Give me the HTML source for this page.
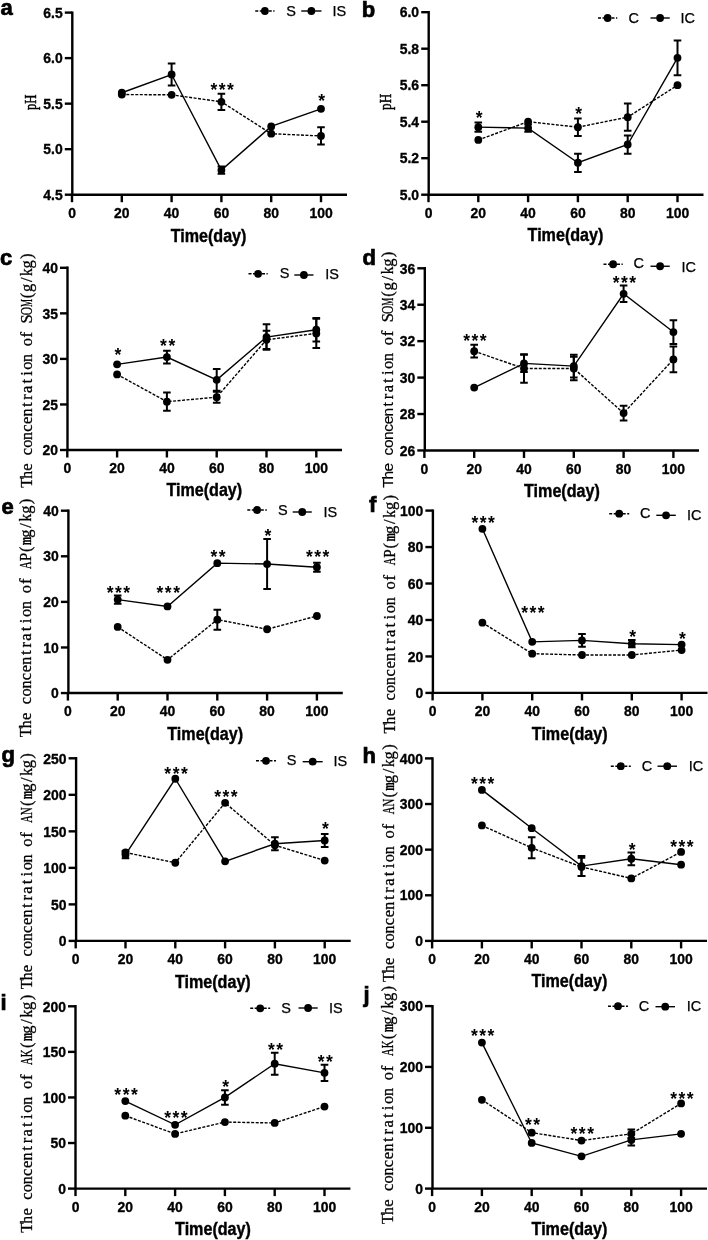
<!DOCTYPE html>
<html><head><meta charset="utf-8"><title>Figure</title>
<style>
html,body{margin:0;padding:0;background:#fff;}
body{width:708px;height:1240px;overflow:hidden;}
svg{display:block;filter:grayscale(1);}
text{font-family:"Liberation Sans",sans-serif;fill:#000;}
.tk{font-size:15px;font-weight:bold;stroke:#000;stroke-width:0.35px;}
.tm{font-size:17.5px;font-weight:bold;stroke:#000;stroke-width:0.4px;}
.lt{font-size:22px;font-weight:bold;stroke:#000;stroke-width:0.7px;}
.lg{font-size:14.5px;stroke:#000;stroke-width:0.25px;}
.st{font-size:17.5px;font-weight:bold;letter-spacing:1.5px;}
.yt text{font-family:"Liberation Serif",serif;font-size:16.5px;stroke:#000;stroke-width:0.3px;}
.yt text.ss{font-family:"Liberation Sans",sans-serif;font-size:15.5px;stroke-width:0.15px;}
.ph{font-family:"Liberation Serif",serif;font-size:17px;stroke:#000;stroke-width:0.45px;}
</style></head>
<body>
<svg width="708" height="1240" viewBox="0 0 708 1240">
<rect width="708" height="1240" fill="#fff"/>
<path d="M72.30 11.40V194.70H347.00" fill="none" stroke="#000" stroke-width="2.4" stroke-linejoin="miter"/>
<line x1="64.80" y1="194.70" x2="72.30" y2="194.70" stroke="#000" stroke-width="2.4"/>
<text transform="translate(62.70,199.90) scale(0.93,1)" class="tk" text-anchor="end">4.5</text>
<line x1="64.80" y1="149.17" x2="72.30" y2="149.17" stroke="#000" stroke-width="2.4"/>
<text transform="translate(62.70,154.37) scale(0.93,1)" class="tk" text-anchor="end">5.0</text>
<line x1="64.80" y1="103.65" x2="72.30" y2="103.65" stroke="#000" stroke-width="2.4"/>
<text transform="translate(62.70,108.85) scale(0.93,1)" class="tk" text-anchor="end">5.5</text>
<line x1="64.80" y1="58.12" x2="72.30" y2="58.12" stroke="#000" stroke-width="2.4"/>
<text transform="translate(62.70,63.33) scale(0.93,1)" class="tk" text-anchor="end">6.0</text>
<line x1="64.80" y1="12.60" x2="72.30" y2="12.60" stroke="#000" stroke-width="2.4"/>
<text transform="translate(62.70,17.80) scale(0.93,1)" class="tk" text-anchor="end">6.5</text>
<line x1="72.00" y1="194.70" x2="72.00" y2="202.20" stroke="#000" stroke-width="2.4"/>
<text transform="translate(72.00,218.00) scale(0.93,1)" class="tk" text-anchor="middle">0</text>
<line x1="121.80" y1="194.70" x2="121.80" y2="202.20" stroke="#000" stroke-width="2.4"/>
<text transform="translate(121.80,218.00) scale(0.93,1)" class="tk" text-anchor="middle">20</text>
<line x1="171.60" y1="194.70" x2="171.60" y2="202.20" stroke="#000" stroke-width="2.4"/>
<text transform="translate(171.60,218.00) scale(0.93,1)" class="tk" text-anchor="middle">40</text>
<line x1="221.40" y1="194.70" x2="221.40" y2="202.20" stroke="#000" stroke-width="2.4"/>
<text transform="translate(221.40,218.00) scale(0.93,1)" class="tk" text-anchor="middle">60</text>
<line x1="271.20" y1="194.70" x2="271.20" y2="202.20" stroke="#000" stroke-width="2.4"/>
<text transform="translate(271.20,218.00) scale(0.93,1)" class="tk" text-anchor="middle">80</text>
<line x1="321.00" y1="194.70" x2="321.00" y2="202.20" stroke="#000" stroke-width="2.4"/>
<text transform="translate(321.00,218.00) scale(0.93,1)" class="tk" text-anchor="middle">100</text>
<text x="170.65" y="241.70" class="tm" textLength="75.8" lengthAdjust="spacingAndGlyphs">Time(day)</text>
<text x="0.50" y="15.30" class="lt">a</text>
<text transform="translate(36.00,110.00) rotate(-90)" x="0" y="0" class="ph" textLength="15.50" lengthAdjust="spacingAndGlyphs">pH</text>
<path d="M121.80 94.55 L171.60 94.82 L221.40 101.83 L271.20 133.70 L321.00 135.97" fill="none" stroke="#000" stroke-width="1.4" stroke-dasharray="3 1.5"/>
<path d="M121.80 92.72 L171.60 74.51 L221.40 170.12 L271.20 126.41 L321.00 108.84" fill="none" stroke="#000" stroke-width="1.4"/>
<circle cx="121.80" cy="94.55" r="3.9"/>
<circle cx="171.60" cy="94.82" r="3.9"/>
<path d="M221.40 93.63V110.02M217.60 93.63H225.20M217.60 110.02H225.20" stroke="#000" stroke-width="2.0" fill="none"/>
<circle cx="221.40" cy="101.83" r="3.9"/>
<circle cx="271.20" cy="133.70" r="3.9"/>
<path d="M321.00 127.32V144.62M317.20 127.32H324.80M317.20 144.62H324.80" stroke="#000" stroke-width="2.0" fill="none"/>
<circle cx="321.00" cy="135.97" r="3.9"/>
<circle cx="121.80" cy="92.72" r="3.9"/>
<path d="M171.60 63.59V85.44M167.80 63.59H175.40M167.80 85.44H175.40" stroke="#000" stroke-width="2.0" fill="none"/>
<circle cx="171.60" cy="74.51" r="3.9"/>
<path d="M221.40 166.47V173.76M217.60 166.47H225.20M217.60 173.76H225.20" stroke="#000" stroke-width="2.0" fill="none"/>
<circle cx="221.40" cy="170.12" r="3.9"/>
<circle cx="271.20" cy="126.41" r="3.9"/>
<circle cx="321.00" cy="108.84" r="3.9"/>
<text x="222.90" y="95.80" class="st" text-anchor="middle">***</text>
<text x="322.50" y="107.00" class="st" text-anchor="middle">*</text>
<line x1="255.25" y1="11.00" x2="274.50" y2="11.00" stroke="#000" stroke-width="1.4" stroke-dasharray="3 1.5"/>
<circle cx="264.88" cy="11.00" r="3.9"/>
<line x1="301.25" y1="11.00" x2="321.50" y2="11.00" stroke="#000" stroke-width="1.4"/>
<circle cx="311.38" cy="11.00" r="3.9"/>
<text x="286.20" y="16.10" class="lg">S</text>
<text x="332.50" y="16.10" class="lg">IS</text>
<path d="M428.70 11.00V194.70H703.50" fill="none" stroke="#000" stroke-width="2.4" stroke-linejoin="miter"/>
<line x1="421.20" y1="194.70" x2="428.70" y2="194.70" stroke="#000" stroke-width="2.4"/>
<text transform="translate(419.10,199.90) scale(0.93,1)" class="tk" text-anchor="end">5.0</text>
<line x1="421.20" y1="158.20" x2="428.70" y2="158.20" stroke="#000" stroke-width="2.4"/>
<text transform="translate(419.10,163.40) scale(0.93,1)" class="tk" text-anchor="end">5.2</text>
<line x1="421.20" y1="121.70" x2="428.70" y2="121.70" stroke="#000" stroke-width="2.4"/>
<text transform="translate(419.10,126.90) scale(0.93,1)" class="tk" text-anchor="end">5.4</text>
<line x1="421.20" y1="85.20" x2="428.70" y2="85.20" stroke="#000" stroke-width="2.4"/>
<text transform="translate(419.10,90.40) scale(0.93,1)" class="tk" text-anchor="end">5.6</text>
<line x1="421.20" y1="48.70" x2="428.70" y2="48.70" stroke="#000" stroke-width="2.4"/>
<text transform="translate(419.10,53.90) scale(0.93,1)" class="tk" text-anchor="end">5.8</text>
<line x1="421.20" y1="12.20" x2="428.70" y2="12.20" stroke="#000" stroke-width="2.4"/>
<text transform="translate(419.10,17.40) scale(0.93,1)" class="tk" text-anchor="end">6.0</text>
<line x1="428.50" y1="194.70" x2="428.50" y2="202.20" stroke="#000" stroke-width="2.4"/>
<text transform="translate(428.50,218.00) scale(0.93,1)" class="tk" text-anchor="middle">0</text>
<line x1="478.30" y1="194.70" x2="478.30" y2="202.20" stroke="#000" stroke-width="2.4"/>
<text transform="translate(478.30,218.00) scale(0.93,1)" class="tk" text-anchor="middle">20</text>
<line x1="528.10" y1="194.70" x2="528.10" y2="202.20" stroke="#000" stroke-width="2.4"/>
<text transform="translate(528.10,218.00) scale(0.93,1)" class="tk" text-anchor="middle">40</text>
<line x1="577.90" y1="194.70" x2="577.90" y2="202.20" stroke="#000" stroke-width="2.4"/>
<text transform="translate(577.90,218.00) scale(0.93,1)" class="tk" text-anchor="middle">60</text>
<line x1="627.70" y1="194.70" x2="627.70" y2="202.20" stroke="#000" stroke-width="2.4"/>
<text transform="translate(627.70,218.00) scale(0.93,1)" class="tk" text-anchor="middle">80</text>
<line x1="677.50" y1="194.70" x2="677.50" y2="202.20" stroke="#000" stroke-width="2.4"/>
<text transform="translate(677.50,218.00) scale(0.93,1)" class="tk" text-anchor="middle">100</text>
<text x="527.60" y="241.40" class="tm" textLength="75.8" lengthAdjust="spacingAndGlyphs">Time(day)</text>
<text x="361.80" y="17.40" class="lt">b</text>
<text transform="translate(391.00,110.00) rotate(-90)" x="0" y="0" class="ph" textLength="16.20" lengthAdjust="spacingAndGlyphs">pH</text>
<path d="M478.30 139.95 L528.10 121.70 L577.90 127.17 L627.70 117.14 L677.50 85.20" fill="none" stroke="#000" stroke-width="1.4" stroke-dasharray="3 1.5"/>
<path d="M478.30 127.17 L528.10 128.09 L577.90 162.76 L627.70 144.51 L677.50 57.82" fill="none" stroke="#000" stroke-width="1.4"/>
<circle cx="478.30" cy="139.95" r="3.9"/>
<circle cx="528.10" cy="121.70" r="3.9"/>
<path d="M577.90 118.41V135.93M574.10 118.41H581.70M574.10 135.93H581.70" stroke="#000" stroke-width="2.0" fill="none"/>
<circle cx="577.90" cy="127.17" r="3.9"/>
<path d="M627.70 103.45V130.83M623.90 103.45H631.50M623.90 130.83H631.50" stroke="#000" stroke-width="2.0" fill="none"/>
<circle cx="627.70" cy="117.14" r="3.9"/>
<circle cx="677.50" cy="85.20" r="3.9"/>
<path d="M478.30 122.61V131.74M474.50 122.61H482.10M474.50 131.74H482.10" stroke="#000" stroke-width="2.0" fill="none"/>
<circle cx="478.30" cy="127.17" r="3.9"/>
<path d="M528.10 124.44V131.74M524.30 124.44H531.90M524.30 131.74H531.90" stroke="#000" stroke-width="2.0" fill="none"/>
<circle cx="528.10" cy="128.09" r="3.9"/>
<path d="M577.90 153.64V171.89M574.10 153.64H581.70M574.10 171.89H581.70" stroke="#000" stroke-width="2.0" fill="none"/>
<circle cx="577.90" cy="162.76" r="3.9"/>
<path d="M627.70 135.39V153.64M623.90 135.39H631.50M623.90 153.64H631.50" stroke="#000" stroke-width="2.0" fill="none"/>
<circle cx="627.70" cy="144.51" r="3.9"/>
<path d="M677.50 40.49V75.16M673.70 40.49H681.30M673.70 75.16H681.30" stroke="#000" stroke-width="2.0" fill="none"/>
<circle cx="677.50" cy="57.82" r="3.9"/>
<text x="479.80" y="124.00" class="st" text-anchor="middle">*</text>
<text x="579.40" y="120.20" class="st" text-anchor="middle">*</text>
<line x1="598.00" y1="18.00" x2="617.25" y2="18.00" stroke="#000" stroke-width="1.4" stroke-dasharray="3 1.5"/>
<circle cx="607.62" cy="18.00" r="3.9"/>
<line x1="650.50" y1="18.00" x2="669.75" y2="18.00" stroke="#000" stroke-width="1.4"/>
<circle cx="660.12" cy="18.00" r="3.9"/>
<text x="628.50" y="22.60" class="lg">C</text>
<text x="680.50" y="22.60" class="lg">IC</text>
<path d="M67.50 266.60V450.00H342.00" fill="none" stroke="#000" stroke-width="2.4" stroke-linejoin="miter"/>
<line x1="60.00" y1="450.00" x2="67.50" y2="450.00" stroke="#000" stroke-width="2.4"/>
<text transform="translate(57.90,455.20) scale(0.93,1)" class="tk" text-anchor="end">20</text>
<line x1="60.00" y1="404.45" x2="67.50" y2="404.45" stroke="#000" stroke-width="2.4"/>
<text transform="translate(57.90,409.65) scale(0.93,1)" class="tk" text-anchor="end">25</text>
<line x1="60.00" y1="358.90" x2="67.50" y2="358.90" stroke="#000" stroke-width="2.4"/>
<text transform="translate(57.90,364.10) scale(0.93,1)" class="tk" text-anchor="end">30</text>
<line x1="60.00" y1="313.35" x2="67.50" y2="313.35" stroke="#000" stroke-width="2.4"/>
<text transform="translate(57.90,318.55) scale(0.93,1)" class="tk" text-anchor="end">35</text>
<line x1="60.00" y1="267.80" x2="67.50" y2="267.80" stroke="#000" stroke-width="2.4"/>
<text transform="translate(57.90,273.00) scale(0.93,1)" class="tk" text-anchor="end">40</text>
<line x1="67.30" y1="450.00" x2="67.30" y2="457.50" stroke="#000" stroke-width="2.4"/>
<text transform="translate(67.30,473.30) scale(0.93,1)" class="tk" text-anchor="middle">0</text>
<line x1="117.10" y1="450.00" x2="117.10" y2="457.50" stroke="#000" stroke-width="2.4"/>
<text transform="translate(117.10,473.30) scale(0.93,1)" class="tk" text-anchor="middle">20</text>
<line x1="166.90" y1="450.00" x2="166.90" y2="457.50" stroke="#000" stroke-width="2.4"/>
<text transform="translate(166.90,473.30) scale(0.93,1)" class="tk" text-anchor="middle">40</text>
<line x1="216.70" y1="450.00" x2="216.70" y2="457.50" stroke="#000" stroke-width="2.4"/>
<text transform="translate(216.70,473.30) scale(0.93,1)" class="tk" text-anchor="middle">60</text>
<line x1="266.50" y1="450.00" x2="266.50" y2="457.50" stroke="#000" stroke-width="2.4"/>
<text transform="translate(266.50,473.30) scale(0.93,1)" class="tk" text-anchor="middle">80</text>
<line x1="316.30" y1="450.00" x2="316.30" y2="457.50" stroke="#000" stroke-width="2.4"/>
<text transform="translate(316.30,473.30) scale(0.93,1)" class="tk" text-anchor="middle">100</text>
<text x="166.40" y="496.10" class="tm" textLength="75.8" lengthAdjust="spacingAndGlyphs">Time(day)</text>
<text x="0.10" y="265.20" class="lt">c</text>
<g transform="translate(31.80,487.50) rotate(-90)" class="yt"><text x="-0.30">T</text><text transform="translate(8.71,0) scale(0.940,1)">h</text><text x="16.67">e</text><text x="32.26">c</text><text x="39.67">o</text><text transform="translate(47.53,0) scale(0.971,1)">n</text><text x="55.69">c</text><text x="63.52">e</text><text transform="translate(70.96,0) scale(0.971,1)">n</text><text x="80.51">t</text><text x="87.80">r</text><text x="94.61">a</text><text x="103.93">t</text><text x="111.76">i</text><text x="117.75">o</text><text transform="translate(125.61,0) scale(0.971,1)">n</text><text x="141.17">o</text><text x="150.10">f</text><text x="164.09">S</text><text transform="translate(172.35,0) scale(0.701,1)">O</text><text transform="translate(180.38,0) scale(0.540,1)">M</text><text x="189.30">(</text><text x="195.63">g</text><text x="205.47">/</text><text transform="translate(211.57,0) scale(0.932,1)">k</text><text x="219.05">g</text><text x="228.53">)</text></g>
<path d="M117.10 374.39 L166.90 401.72 L216.70 397.16 L266.50 339.77 L316.30 333.39" fill="none" stroke="#000" stroke-width="1.4" stroke-dasharray="3 1.5"/>
<path d="M117.10 364.37 L166.90 357.08 L216.70 379.85 L266.50 337.04 L316.30 329.75" fill="none" stroke="#000" stroke-width="1.4"/>
<circle cx="117.10" cy="374.39" r="3.9"/>
<path d="M166.90 392.61V410.83M163.10 392.61H170.70M163.10 410.83H170.70" stroke="#000" stroke-width="2.0" fill="none"/>
<circle cx="166.90" cy="401.72" r="3.9"/>
<path d="M216.70 391.70V402.63M212.90 391.70H220.50M212.90 402.63H220.50" stroke="#000" stroke-width="2.0" fill="none"/>
<circle cx="216.70" cy="397.16" r="3.9"/>
<path d="M266.50 330.66V348.88M262.70 330.66H270.30M262.70 348.88H270.30" stroke="#000" stroke-width="2.0" fill="none"/>
<circle cx="266.50" cy="339.77" r="3.9"/>
<path d="M316.30 318.82V347.97M312.50 318.82H320.10M312.50 347.97H320.10" stroke="#000" stroke-width="2.0" fill="none"/>
<circle cx="316.30" cy="333.39" r="3.9"/>
<circle cx="117.10" cy="364.37" r="3.9"/>
<path d="M166.90 350.70V363.46M163.10 350.70H170.70M163.10 363.46H170.70" stroke="#000" stroke-width="2.0" fill="none"/>
<circle cx="166.90" cy="357.08" r="3.9"/>
<path d="M216.70 368.92V390.79M212.90 368.92H220.50M212.90 390.79H220.50" stroke="#000" stroke-width="2.0" fill="none"/>
<circle cx="216.70" cy="379.85" r="3.9"/>
<path d="M266.50 324.28V349.79M262.70 324.28H270.30M262.70 349.79H270.30" stroke="#000" stroke-width="2.0" fill="none"/>
<circle cx="266.50" cy="337.04" r="3.9"/>
<path d="M316.30 317.91V341.59M312.50 317.91H320.10M312.50 341.59H320.10" stroke="#000" stroke-width="2.0" fill="none"/>
<circle cx="316.30" cy="329.75" r="3.9"/>
<text x="118.60" y="360.50" class="st" text-anchor="middle">*</text>
<text x="168.40" y="352.00" class="st" text-anchor="middle">**</text>
<line x1="248.50" y1="273.80" x2="267.70" y2="273.80" stroke="#000" stroke-width="1.4" stroke-dasharray="3 1.5"/>
<circle cx="258.10" cy="273.80" r="3.9"/>
<line x1="294.30" y1="275.00" x2="313.50" y2="275.00" stroke="#000" stroke-width="1.4"/>
<circle cx="303.90" cy="275.00" r="3.9"/>
<text x="279.70" y="278.40" class="lg">S</text>
<text x="325.20" y="279.20" class="lg">IS</text>
<path d="M424.80 267.10V450.45H699.00" fill="none" stroke="#000" stroke-width="2.4" stroke-linejoin="miter"/>
<line x1="417.30" y1="450.45" x2="424.80" y2="450.45" stroke="#000" stroke-width="2.4"/>
<text transform="translate(415.20,455.65) scale(0.93,1)" class="tk" text-anchor="end">26</text>
<line x1="417.30" y1="414.02" x2="424.80" y2="414.02" stroke="#000" stroke-width="2.4"/>
<text transform="translate(415.20,419.22) scale(0.93,1)" class="tk" text-anchor="end">28</text>
<line x1="417.30" y1="377.59" x2="424.80" y2="377.59" stroke="#000" stroke-width="2.4"/>
<text transform="translate(415.20,382.79) scale(0.93,1)" class="tk" text-anchor="end">30</text>
<line x1="417.30" y1="341.16" x2="424.80" y2="341.16" stroke="#000" stroke-width="2.4"/>
<text transform="translate(415.20,346.36) scale(0.93,1)" class="tk" text-anchor="end">32</text>
<line x1="417.30" y1="304.73" x2="424.80" y2="304.73" stroke="#000" stroke-width="2.4"/>
<text transform="translate(415.20,309.93) scale(0.93,1)" class="tk" text-anchor="end">34</text>
<line x1="417.30" y1="268.30" x2="424.80" y2="268.30" stroke="#000" stroke-width="2.4"/>
<text transform="translate(415.20,273.50) scale(0.93,1)" class="tk" text-anchor="end">36</text>
<line x1="424.40" y1="450.45" x2="424.40" y2="457.95" stroke="#000" stroke-width="2.4"/>
<text transform="translate(424.40,473.75) scale(0.93,1)" class="tk" text-anchor="middle">0</text>
<line x1="474.20" y1="450.45" x2="474.20" y2="457.95" stroke="#000" stroke-width="2.4"/>
<text transform="translate(474.20,473.75) scale(0.93,1)" class="tk" text-anchor="middle">20</text>
<line x1="524.00" y1="450.45" x2="524.00" y2="457.95" stroke="#000" stroke-width="2.4"/>
<text transform="translate(524.00,473.75) scale(0.93,1)" class="tk" text-anchor="middle">40</text>
<line x1="573.80" y1="450.45" x2="573.80" y2="457.95" stroke="#000" stroke-width="2.4"/>
<text transform="translate(573.80,473.75) scale(0.93,1)" class="tk" text-anchor="middle">60</text>
<line x1="623.60" y1="450.45" x2="623.60" y2="457.95" stroke="#000" stroke-width="2.4"/>
<text transform="translate(623.60,473.75) scale(0.93,1)" class="tk" text-anchor="middle">80</text>
<line x1="673.40" y1="450.45" x2="673.40" y2="457.95" stroke="#000" stroke-width="2.4"/>
<text transform="translate(673.40,473.75) scale(0.93,1)" class="tk" text-anchor="middle">100</text>
<text x="524.05" y="496.60" class="tm" textLength="75.8" lengthAdjust="spacingAndGlyphs">Time(day)</text>
<text x="362.50" y="265.00" class="lt">d</text>
<g transform="translate(392.80,487.70) rotate(-90)" class="yt"><text x="0.02" class="ss">T</text><text x="8.28" class="ss">h</text><text x="16.21" class="ss">e</text><text x="32.25" class="ss">c</text><text x="39.81" class="ss">o</text><text x="47.67" class="ss">n</text><text x="55.87" class="ss">c</text><text x="63.45" class="ss">e</text><text x="71.29" class="ss">n</text><text x="81.27" class="ss">t</text><text x="88.52">r</text><text x="95.39">a</text><text x="104.78">t</text><text x="112.67">i</text><text x="118.73">o</text><text transform="translate(126.66,0) scale(0.971,1)">n</text><text x="142.35">o</text><text x="151.35">f</text><text x="165.47">S</text><text transform="translate(173.79,0) scale(0.701,1)">O</text><text transform="translate(181.88,0) scale(0.540,1)">M</text><text x="190.87">(</text><text x="197.27">g</text><text x="207.17">/</text><text transform="translate(213.34,0) scale(0.932,1)">k</text><text x="220.89">g</text><text x="230.43">)</text></g>
<path d="M474.20 351.18 L524.00 368.48 L573.80 368.48 L623.60 413.11 L673.40 359.38" fill="none" stroke="#000" stroke-width="1.4" stroke-dasharray="3 1.5"/>
<path d="M474.20 387.61 L524.00 363.38 L573.80 366.11 L623.60 293.80 L673.40 332.05" fill="none" stroke="#000" stroke-width="1.4"/>
<path d="M474.20 344.80V357.55M470.40 344.80H478.00M470.40 357.55H478.00" stroke="#000" stroke-width="2.0" fill="none"/>
<circle cx="474.20" cy="351.18" r="3.9"/>
<path d="M524.00 354.27V382.69M520.20 354.27H527.80M520.20 382.69H527.80" stroke="#000" stroke-width="2.0" fill="none"/>
<circle cx="524.00" cy="368.48" r="3.9"/>
<path d="M573.80 356.64V380.32M570.00 356.64H577.60M570.00 380.32H577.60" stroke="#000" stroke-width="2.0" fill="none"/>
<circle cx="573.80" cy="368.48" r="3.9"/>
<path d="M623.60 405.82V420.40M619.80 405.82H627.40M619.80 420.40H627.40" stroke="#000" stroke-width="2.0" fill="none"/>
<circle cx="623.60" cy="413.11" r="3.9"/>
<path d="M673.40 346.62V372.13M669.60 346.62H677.20M669.60 372.13H677.20" stroke="#000" stroke-width="2.0" fill="none"/>
<circle cx="673.40" cy="359.38" r="3.9"/>
<circle cx="474.20" cy="387.61" r="3.9"/>
<path d="M524.00 354.82V371.94M520.20 354.82H527.80M520.20 371.94H527.80" stroke="#000" stroke-width="2.0" fill="none"/>
<circle cx="524.00" cy="363.38" r="3.9"/>
<path d="M573.80 354.82V377.41M570.00 354.82H577.60M570.00 377.41H577.60" stroke="#000" stroke-width="2.0" fill="none"/>
<circle cx="573.80" cy="366.11" r="3.9"/>
<path d="M623.60 285.60V302.00M619.80 285.60H627.40M619.80 302.00H627.40" stroke="#000" stroke-width="2.0" fill="none"/>
<circle cx="623.60" cy="293.80" r="3.9"/>
<path d="M673.40 320.21V343.89M669.60 320.21H677.20M669.60 343.89H677.20" stroke="#000" stroke-width="2.0" fill="none"/>
<circle cx="673.40" cy="332.05" r="3.9"/>
<text x="475.70" y="346.50" class="st" text-anchor="middle">***</text>
<text x="625.10" y="288.50" class="st" text-anchor="middle">***</text>
<line x1="603.50" y1="264.25" x2="622.75" y2="264.25" stroke="#000" stroke-width="1.4" stroke-dasharray="3 1.5"/>
<circle cx="613.12" cy="264.25" r="3.9"/>
<line x1="650.50" y1="266.25" x2="669.75" y2="266.25" stroke="#000" stroke-width="1.4"/>
<circle cx="660.12" cy="266.25" r="3.9"/>
<text x="633.50" y="268.35" class="lg">C</text>
<text x="681.50" y="272.10" class="lg">IC</text>
<path d="M68.40 509.50V693.06H342.80" fill="none" stroke="#000" stroke-width="2.4" stroke-linejoin="miter"/>
<line x1="60.90" y1="693.06" x2="68.40" y2="693.06" stroke="#000" stroke-width="2.4"/>
<text transform="translate(58.80,698.26) scale(0.93,1)" class="tk" text-anchor="end">0</text>
<line x1="60.90" y1="647.47" x2="68.40" y2="647.47" stroke="#000" stroke-width="2.4"/>
<text transform="translate(58.80,652.67) scale(0.93,1)" class="tk" text-anchor="end">10</text>
<line x1="60.90" y1="601.88" x2="68.40" y2="601.88" stroke="#000" stroke-width="2.4"/>
<text transform="translate(58.80,607.08) scale(0.93,1)" class="tk" text-anchor="end">20</text>
<line x1="60.90" y1="556.29" x2="68.40" y2="556.29" stroke="#000" stroke-width="2.4"/>
<text transform="translate(58.80,561.49) scale(0.93,1)" class="tk" text-anchor="end">30</text>
<line x1="60.90" y1="510.70" x2="68.40" y2="510.70" stroke="#000" stroke-width="2.4"/>
<text transform="translate(58.80,515.90) scale(0.93,1)" class="tk" text-anchor="end">40</text>
<line x1="67.90" y1="693.06" x2="67.90" y2="700.56" stroke="#000" stroke-width="2.4"/>
<text transform="translate(67.90,716.36) scale(0.93,1)" class="tk" text-anchor="middle">0</text>
<line x1="117.70" y1="693.06" x2="117.70" y2="700.56" stroke="#000" stroke-width="2.4"/>
<text transform="translate(117.70,716.36) scale(0.93,1)" class="tk" text-anchor="middle">20</text>
<line x1="167.50" y1="693.06" x2="167.50" y2="700.56" stroke="#000" stroke-width="2.4"/>
<text transform="translate(167.50,716.36) scale(0.93,1)" class="tk" text-anchor="middle">40</text>
<line x1="217.30" y1="693.06" x2="217.30" y2="700.56" stroke="#000" stroke-width="2.4"/>
<text transform="translate(217.30,716.36) scale(0.93,1)" class="tk" text-anchor="middle">60</text>
<line x1="267.10" y1="693.06" x2="267.10" y2="700.56" stroke="#000" stroke-width="2.4"/>
<text transform="translate(267.10,716.36) scale(0.93,1)" class="tk" text-anchor="middle">80</text>
<line x1="316.90" y1="693.06" x2="316.90" y2="700.56" stroke="#000" stroke-width="2.4"/>
<text transform="translate(316.90,716.36) scale(0.93,1)" class="tk" text-anchor="middle">100</text>
<text x="167.30" y="739.90" class="tm" textLength="75.8" lengthAdjust="spacingAndGlyphs">Time(day)</text>
<text x="1.50" y="513.80" class="lt">e</text>
<g transform="translate(31.30,737.00) rotate(-90)" class="yt"><text x="-0.30">T</text><text transform="translate(8.86,0) scale(0.940,1)">h</text><text x="16.97">e</text><text x="32.86">c</text><text x="40.41">o</text><text transform="translate(48.42,0) scale(0.971,1)">n</text><text x="56.72">c</text><text x="64.70">e</text><text transform="translate(72.29,0) scale(0.971,1)">n</text><text x="81.99">t</text><text x="89.43">r</text><text x="96.39">a</text><text x="105.86">t</text><text x="113.83">i</text><text x="119.97">o</text><text transform="translate(127.98,0) scale(0.971,1)">n</text><text x="143.84">o</text><text x="152.92">f</text><text transform="translate(168.03,0) scale(0.636,1)">A</text><text transform="translate(175.65,0) scale(0.920,1)">P</text><text x="184.90">(</text><text transform="translate(191.79,0) scale(0.605,1)" font-weight="bold">m</text><text x="199.33">g</text><text x="209.32">/</text><text transform="translate(215.58,0) scale(0.932,1)">k</text><text x="223.20">g</text><text x="232.83">)</text></g>
<path d="M117.70 626.95 L167.50 659.78 L217.30 619.66 L267.10 629.23 L316.90 616.01" fill="none" stroke="#000" stroke-width="1.4" stroke-dasharray="3 1.5"/>
<path d="M117.70 599.60 L167.50 606.44 L217.30 563.13 L267.10 564.04 L316.90 567.23" fill="none" stroke="#000" stroke-width="1.4"/>
<circle cx="117.70" cy="626.95" r="3.9"/>
<circle cx="167.50" cy="659.78" r="3.9"/>
<path d="M217.30 609.63V629.69M213.50 609.63H221.10M213.50 629.69H221.10" stroke="#000" stroke-width="2.0" fill="none"/>
<circle cx="217.30" cy="619.66" r="3.9"/>
<circle cx="267.10" cy="629.23" r="3.9"/>
<circle cx="316.90" cy="616.01" r="3.9"/>
<path d="M117.70 595.50V603.70M113.90 595.50H121.50M113.90 603.70H121.50" stroke="#000" stroke-width="2.0" fill="none"/>
<circle cx="117.70" cy="599.60" r="3.9"/>
<circle cx="167.50" cy="606.44" r="3.9"/>
<circle cx="217.30" cy="563.13" r="3.9"/>
<path d="M267.10 538.97V589.11M263.30 538.97H270.90M263.30 589.11H270.90" stroke="#000" stroke-width="2.0" fill="none"/>
<circle cx="267.10" cy="564.04" r="3.9"/>
<path d="M316.90 562.67V571.79M313.10 562.67H320.70M313.10 571.79H320.70" stroke="#000" stroke-width="2.0" fill="none"/>
<circle cx="316.90" cy="567.23" r="3.9"/>
<text x="119.20" y="599.00" class="st" text-anchor="middle">***</text>
<text x="169.00" y="599.00" class="st" text-anchor="middle">***</text>
<text x="218.80" y="562.70" class="st" text-anchor="middle">**</text>
<text x="268.60" y="542.00" class="st" text-anchor="middle">*</text>
<text x="318.40" y="563.00" class="st" text-anchor="middle">***</text>
<line x1="247.30" y1="510.00" x2="266.80" y2="510.00" stroke="#000" stroke-width="1.4" stroke-dasharray="3 1.5"/>
<circle cx="257.05" cy="510.00" r="3.9"/>
<line x1="292.70" y1="512.00" x2="311.80" y2="512.00" stroke="#000" stroke-width="1.4"/>
<circle cx="302.25" cy="512.00" r="3.9"/>
<text x="278.00" y="514.90" class="lg">S</text>
<text x="323.50" y="516.70" class="lg">IS</text>
<path d="M432.90 509.40V692.90H707.50" fill="none" stroke="#000" stroke-width="2.4" stroke-linejoin="miter"/>
<line x1="425.40" y1="692.90" x2="432.90" y2="692.90" stroke="#000" stroke-width="2.4"/>
<text transform="translate(423.30,698.10) scale(0.93,1)" class="tk" text-anchor="end">0</text>
<line x1="425.40" y1="656.44" x2="432.90" y2="656.44" stroke="#000" stroke-width="2.4"/>
<text transform="translate(423.30,661.64) scale(0.93,1)" class="tk" text-anchor="end">20</text>
<line x1="425.40" y1="619.98" x2="432.90" y2="619.98" stroke="#000" stroke-width="2.4"/>
<text transform="translate(423.30,625.18) scale(0.93,1)" class="tk" text-anchor="end">40</text>
<line x1="425.40" y1="583.52" x2="432.90" y2="583.52" stroke="#000" stroke-width="2.4"/>
<text transform="translate(423.30,588.72) scale(0.93,1)" class="tk" text-anchor="end">60</text>
<line x1="425.40" y1="547.06" x2="432.90" y2="547.06" stroke="#000" stroke-width="2.4"/>
<text transform="translate(423.30,552.26) scale(0.93,1)" class="tk" text-anchor="end">80</text>
<line x1="425.40" y1="510.60" x2="432.90" y2="510.60" stroke="#000" stroke-width="2.4"/>
<text transform="translate(423.30,515.80) scale(0.93,1)" class="tk" text-anchor="end">100</text>
<line x1="432.60" y1="692.90" x2="432.60" y2="700.40" stroke="#000" stroke-width="2.4"/>
<text transform="translate(432.60,716.20) scale(0.93,1)" class="tk" text-anchor="middle">0</text>
<line x1="482.40" y1="692.90" x2="482.40" y2="700.40" stroke="#000" stroke-width="2.4"/>
<text transform="translate(482.40,716.20) scale(0.93,1)" class="tk" text-anchor="middle">20</text>
<line x1="532.20" y1="692.90" x2="532.20" y2="700.40" stroke="#000" stroke-width="2.4"/>
<text transform="translate(532.20,716.20) scale(0.93,1)" class="tk" text-anchor="middle">40</text>
<line x1="582.00" y1="692.90" x2="582.00" y2="700.40" stroke="#000" stroke-width="2.4"/>
<text transform="translate(582.00,716.20) scale(0.93,1)" class="tk" text-anchor="middle">60</text>
<line x1="631.80" y1="692.90" x2="631.80" y2="700.40" stroke="#000" stroke-width="2.4"/>
<text transform="translate(631.80,716.20) scale(0.93,1)" class="tk" text-anchor="middle">80</text>
<line x1="681.60" y1="692.90" x2="681.60" y2="700.40" stroke="#000" stroke-width="2.4"/>
<text transform="translate(681.60,716.20) scale(0.93,1)" class="tk" text-anchor="middle">100</text>
<text x="531.85" y="739.50" class="tm" textLength="75.8" lengthAdjust="spacingAndGlyphs">Time(day)</text>
<text x="369.00" y="512.10" class="lt">f</text>
<g transform="translate(394.60,733.30) rotate(-90)" class="yt"><text x="-0.30">T</text><text transform="translate(8.86,0) scale(0.940,1)">h</text><text x="16.97">e</text><text x="32.86">c</text><text x="40.41">o</text><text transform="translate(48.42,0) scale(0.971,1)">n</text><text x="56.72">c</text><text x="64.70">e</text><text transform="translate(72.29,0) scale(0.971,1)">n</text><text x="81.99">t</text><text x="89.43">r</text><text x="96.39">a</text><text x="105.86">t</text><text x="113.83">i</text><text x="119.97">o</text><text transform="translate(127.98,0) scale(0.971,1)">n</text><text x="143.84">o</text><text x="152.92">f</text><text transform="translate(168.03,0) scale(0.636,1)">A</text><text transform="translate(175.65,0) scale(0.920,1)">P</text><text x="184.90">(</text><text transform="translate(191.79,0) scale(0.605,1)" font-weight="bold">m</text><text x="199.33">g</text><text x="209.32">/</text><text transform="translate(215.58,0) scale(0.932,1)">k</text><text x="223.20">g</text><text x="232.83">)</text></g>
<path d="M482.40 622.71 L532.20 653.71 L582.00 654.98 L631.80 654.98 L681.60 650.06" fill="none" stroke="#000" stroke-width="1.4" stroke-dasharray="3 1.5"/>
<path d="M482.40 528.83 L532.20 641.86 L582.00 640.40 L631.80 643.68 L681.60 644.59" fill="none" stroke="#000" stroke-width="1.4"/>
<circle cx="482.40" cy="622.71" r="3.9"/>
<circle cx="532.20" cy="653.71" r="3.9"/>
<circle cx="582.00" cy="654.98" r="3.9"/>
<circle cx="631.80" cy="654.98" r="3.9"/>
<circle cx="681.60" cy="650.06" r="3.9"/>
<circle cx="482.40" cy="528.83" r="3.9"/>
<circle cx="532.20" cy="641.86" r="3.9"/>
<path d="M582.00 634.02V646.78M578.20 634.02H585.80M578.20 646.78H585.80" stroke="#000" stroke-width="2.0" fill="none"/>
<circle cx="582.00" cy="640.40" r="3.9"/>
<path d="M631.80 640.03V647.33M628.00 640.03H635.60M628.00 647.33H635.60" stroke="#000" stroke-width="2.0" fill="none"/>
<circle cx="631.80" cy="643.68" r="3.9"/>
<circle cx="681.60" cy="644.59" r="3.9"/>
<text x="483.90" y="528.50" class="st" text-anchor="middle">***</text>
<text x="533.70" y="619.00" class="st" text-anchor="middle">***</text>
<text x="633.30" y="643.00" class="st" text-anchor="middle">*</text>
<text x="683.10" y="645.00" class="st" text-anchor="middle">*</text>
<line x1="609.20" y1="513.70" x2="629.20" y2="513.70" stroke="#000" stroke-width="1.4" stroke-dasharray="3 1.5"/>
<circle cx="619.20" cy="513.70" r="3.9"/>
<line x1="656.30" y1="515.30" x2="675.80" y2="515.30" stroke="#000" stroke-width="1.4"/>
<circle cx="666.05" cy="515.30" r="3.9"/>
<text x="640.00" y="518.40" class="lg">C</text>
<text x="687.00" y="519.90" class="lg">IC</text>
<path d="M76.10 757.10V940.90H350.70" fill="none" stroke="#000" stroke-width="2.4" stroke-linejoin="miter"/>
<line x1="68.60" y1="940.90" x2="76.10" y2="940.90" stroke="#000" stroke-width="2.4"/>
<text transform="translate(66.50,946.10) scale(0.93,1)" class="tk" text-anchor="end">0</text>
<line x1="68.60" y1="904.38" x2="76.10" y2="904.38" stroke="#000" stroke-width="2.4"/>
<text transform="translate(66.50,909.58) scale(0.93,1)" class="tk" text-anchor="end">50</text>
<line x1="68.60" y1="867.86" x2="76.10" y2="867.86" stroke="#000" stroke-width="2.4"/>
<text transform="translate(66.50,873.06) scale(0.93,1)" class="tk" text-anchor="end">100</text>
<line x1="68.60" y1="831.34" x2="76.10" y2="831.34" stroke="#000" stroke-width="2.4"/>
<text transform="translate(66.50,836.54) scale(0.93,1)" class="tk" text-anchor="end">150</text>
<line x1="68.60" y1="794.82" x2="76.10" y2="794.82" stroke="#000" stroke-width="2.4"/>
<text transform="translate(66.50,800.02) scale(0.93,1)" class="tk" text-anchor="end">200</text>
<line x1="68.60" y1="758.30" x2="76.10" y2="758.30" stroke="#000" stroke-width="2.4"/>
<text transform="translate(66.50,763.50) scale(0.93,1)" class="tk" text-anchor="end">250</text>
<line x1="75.70" y1="940.90" x2="75.70" y2="948.40" stroke="#000" stroke-width="2.4"/>
<text transform="translate(75.70,964.20) scale(0.93,1)" class="tk" text-anchor="middle">0</text>
<line x1="125.50" y1="940.90" x2="125.50" y2="948.40" stroke="#000" stroke-width="2.4"/>
<text transform="translate(125.50,964.20) scale(0.93,1)" class="tk" text-anchor="middle">20</text>
<line x1="175.30" y1="940.90" x2="175.30" y2="948.40" stroke="#000" stroke-width="2.4"/>
<text transform="translate(175.30,964.20) scale(0.93,1)" class="tk" text-anchor="middle">40</text>
<line x1="225.10" y1="940.90" x2="225.10" y2="948.40" stroke="#000" stroke-width="2.4"/>
<text transform="translate(225.10,964.20) scale(0.93,1)" class="tk" text-anchor="middle">60</text>
<line x1="274.90" y1="940.90" x2="274.90" y2="948.40" stroke="#000" stroke-width="2.4"/>
<text transform="translate(274.90,964.20) scale(0.93,1)" class="tk" text-anchor="middle">80</text>
<line x1="324.70" y1="940.90" x2="324.70" y2="948.40" stroke="#000" stroke-width="2.4"/>
<text transform="translate(324.70,964.20) scale(0.93,1)" class="tk" text-anchor="middle">100</text>
<text x="174.95" y="987.60" class="tm" textLength="75.8" lengthAdjust="spacingAndGlyphs">Time(day)</text>
<text x="1.50" y="762.30" class="lt">g</text>
<g transform="translate(31.80,989.00) rotate(-90)" class="yt"><text x="-0.30">T</text><text transform="translate(8.77,0) scale(0.940,1)">h</text><text x="16.80">e</text><text x="32.51">c</text><text x="39.98">o</text><text transform="translate(47.91,0) scale(0.971,1)">n</text><text x="56.12">c</text><text x="64.01">e</text><text transform="translate(71.52,0) scale(0.971,1)">n</text><text x="81.13">t</text><text x="88.48">r</text><text x="95.35">a</text><text x="104.74">t</text><text x="112.62">i</text><text x="118.68">o</text><text transform="translate(126.60,0) scale(0.971,1)">n</text><text x="142.29">o</text><text x="151.28">f</text><text transform="translate(166.22,0) scale(0.636,1)">A</text><text transform="translate(173.87,0) scale(0.669,1)">N</text><text x="182.92">(</text><text transform="translate(189.72,0) scale(0.605,1)" font-weight="bold">m</text><text x="197.18">g</text><text x="207.08">/</text><text transform="translate(213.25,0) scale(0.932,1)">k</text><text x="220.79">g</text><text x="230.33">)</text></g>
<path d="M125.50 852.52 L175.30 862.75 L225.10 802.85 L274.90 845.22 L324.70 860.56" fill="none" stroke="#000" stroke-width="1.4" stroke-dasharray="3 1.5"/>
<path d="M125.50 854.71 L175.30 778.75 L225.10 861.29 L274.90 843.76 L324.70 840.47" fill="none" stroke="#000" stroke-width="1.4"/>
<circle cx="125.50" cy="852.52" r="3.9"/>
<circle cx="175.30" cy="862.75" r="3.9"/>
<circle cx="225.10" cy="802.85" r="3.9"/>
<circle cx="274.90" cy="845.22" r="3.9"/>
<circle cx="324.70" cy="860.56" r="3.9"/>
<path d="M125.50 851.06V858.36M121.70 851.06H129.30M121.70 858.36H129.30" stroke="#000" stroke-width="2.0" fill="none"/>
<circle cx="125.50" cy="854.71" r="3.9"/>
<circle cx="175.30" cy="778.75" r="3.9"/>
<circle cx="225.10" cy="861.29" r="3.9"/>
<path d="M274.90 837.18V850.33M271.10 837.18H278.70M271.10 850.33H278.70" stroke="#000" stroke-width="2.0" fill="none"/>
<circle cx="274.90" cy="843.76" r="3.9"/>
<path d="M324.70 834.04V846.90M320.90 834.04H328.50M320.90 846.90H328.50" stroke="#000" stroke-width="2.0" fill="none"/>
<circle cx="324.70" cy="840.47" r="3.9"/>
<text x="176.80" y="780.00" class="st" text-anchor="middle">***</text>
<text x="226.60" y="803.00" class="st" text-anchor="middle">***</text>
<text x="326.20" y="835.00" class="st" text-anchor="middle">*</text>
<line x1="256.00" y1="760.80" x2="276.00" y2="760.80" stroke="#000" stroke-width="1.4" stroke-dasharray="3 1.5"/>
<circle cx="266.00" cy="760.80" r="3.9"/>
<line x1="302.70" y1="761.70" x2="322.70" y2="761.70" stroke="#000" stroke-width="1.4"/>
<circle cx="312.70" cy="761.70" r="3.9"/>
<text x="286.80" y="765.40" class="lg">S</text>
<text x="333.50" y="766.30" class="lg">IS</text>
<path d="M432.50 757.20V940.90H707.00" fill="none" stroke="#000" stroke-width="2.4" stroke-linejoin="miter"/>
<line x1="425.00" y1="940.90" x2="432.50" y2="940.90" stroke="#000" stroke-width="2.4"/>
<text transform="translate(422.90,946.10) scale(0.93,1)" class="tk" text-anchor="end">0</text>
<line x1="425.00" y1="895.27" x2="432.50" y2="895.27" stroke="#000" stroke-width="2.4"/>
<text transform="translate(422.90,900.48) scale(0.93,1)" class="tk" text-anchor="end">100</text>
<line x1="425.00" y1="849.65" x2="432.50" y2="849.65" stroke="#000" stroke-width="2.4"/>
<text transform="translate(422.90,854.85) scale(0.93,1)" class="tk" text-anchor="end">200</text>
<line x1="425.00" y1="804.02" x2="432.50" y2="804.02" stroke="#000" stroke-width="2.4"/>
<text transform="translate(422.90,809.23) scale(0.93,1)" class="tk" text-anchor="end">300</text>
<line x1="425.00" y1="758.40" x2="432.50" y2="758.40" stroke="#000" stroke-width="2.4"/>
<text transform="translate(422.90,763.60) scale(0.93,1)" class="tk" text-anchor="end">400</text>
<line x1="432.10" y1="940.90" x2="432.10" y2="948.40" stroke="#000" stroke-width="2.4"/>
<text transform="translate(432.10,964.20) scale(0.93,1)" class="tk" text-anchor="middle">0</text>
<line x1="481.90" y1="940.90" x2="481.90" y2="948.40" stroke="#000" stroke-width="2.4"/>
<text transform="translate(481.90,964.20) scale(0.93,1)" class="tk" text-anchor="middle">20</text>
<line x1="531.70" y1="940.90" x2="531.70" y2="948.40" stroke="#000" stroke-width="2.4"/>
<text transform="translate(531.70,964.20) scale(0.93,1)" class="tk" text-anchor="middle">40</text>
<line x1="581.50" y1="940.90" x2="581.50" y2="948.40" stroke="#000" stroke-width="2.4"/>
<text transform="translate(581.50,964.20) scale(0.93,1)" class="tk" text-anchor="middle">60</text>
<line x1="631.30" y1="940.90" x2="631.30" y2="948.40" stroke="#000" stroke-width="2.4"/>
<text transform="translate(631.30,964.20) scale(0.93,1)" class="tk" text-anchor="middle">80</text>
<line x1="681.10" y1="940.90" x2="681.10" y2="948.40" stroke="#000" stroke-width="2.4"/>
<text transform="translate(681.10,964.20) scale(0.93,1)" class="tk" text-anchor="middle">100</text>
<text x="531.50" y="987.30" class="tm" textLength="75.8" lengthAdjust="spacingAndGlyphs">Time(day)</text>
<text x="362.50" y="762.50" class="lt">h</text>
<g transform="translate(394.40,981.80) rotate(-90)" class="yt"><text x="-0.30">T</text><text transform="translate(8.83,0) scale(0.940,1)">h</text><text x="16.91">e</text><text x="32.75">c</text><text x="40.27">o</text><text transform="translate(48.26,0) scale(0.971,1)">n</text><text x="56.53">c</text><text x="64.48">e</text><text transform="translate(72.04,0) scale(0.971,1)">n</text><text x="81.71">t</text><text x="89.13">r</text><text x="96.06">a</text><text x="105.50">t</text><text x="113.44">i</text><text x="119.56">o</text><text transform="translate(127.54,0) scale(0.971,1)">n</text><text x="143.34">o</text><text x="152.39">f</text><text transform="translate(167.45,0) scale(0.636,1)">A</text><text transform="translate(175.16,0) scale(0.669,1)">N</text><text x="184.27">(</text><text transform="translate(191.13,0) scale(0.605,1)" font-weight="bold">m</text><text x="198.64">g</text><text x="208.60">/</text><text transform="translate(214.83,0) scale(0.932,1)">k</text><text x="222.43">g</text><text x="232.03">)</text></g>
<path d="M481.90 825.47 L531.70 847.82 L581.50 866.99 L631.30 878.39 L681.10 851.93" fill="none" stroke="#000" stroke-width="1.4" stroke-dasharray="3 1.5"/>
<path d="M481.90 789.88 L531.70 828.21 L581.50 866.07 L631.30 858.77 L681.10 864.71" fill="none" stroke="#000" stroke-width="1.4"/>
<circle cx="481.90" cy="825.47" r="3.9"/>
<path d="M531.70 837.33V858.32M527.90 837.33H535.50M527.90 858.32H535.50" stroke="#000" stroke-width="2.0" fill="none"/>
<circle cx="531.70" cy="847.82" r="3.9"/>
<path d="M581.50 857.86V876.11M577.70 857.86H585.30M577.70 876.11H585.30" stroke="#000" stroke-width="2.0" fill="none"/>
<circle cx="581.50" cy="866.99" r="3.9"/>
<circle cx="631.30" cy="878.39" r="3.9"/>
<circle cx="681.10" cy="851.93" r="3.9"/>
<circle cx="481.90" cy="789.88" r="3.9"/>
<circle cx="531.70" cy="828.21" r="3.9"/>
<path d="M581.50 856.04V876.11M577.70 856.04H585.30M577.70 876.11H585.30" stroke="#000" stroke-width="2.0" fill="none"/>
<circle cx="581.50" cy="866.07" r="3.9"/>
<path d="M631.30 852.39V865.16M627.50 852.39H635.10M627.50 865.16H635.10" stroke="#000" stroke-width="2.0" fill="none"/>
<circle cx="631.30" cy="858.77" r="3.9"/>
<circle cx="681.10" cy="864.71" r="3.9"/>
<text x="483.40" y="790.00" class="st" text-anchor="middle">***</text>
<text x="632.80" y="856.00" class="st" text-anchor="middle">*</text>
<text x="682.60" y="852.80" class="st" text-anchor="middle">***</text>
<line x1="610.80" y1="766.20" x2="630.80" y2="766.20" stroke="#000" stroke-width="1.4" stroke-dasharray="3 1.5"/>
<circle cx="620.80" cy="766.20" r="3.9"/>
<line x1="657.50" y1="766.20" x2="677.00" y2="766.20" stroke="#000" stroke-width="1.4"/>
<circle cx="667.25" cy="766.20" r="3.9"/>
<text x="641.70" y="770.80" class="lg">C</text>
<text x="688.70" y="770.80" class="lg">IC</text>
<path d="M75.50 1005.10V1188.60H350.40" fill="none" stroke="#000" stroke-width="2.4" stroke-linejoin="miter"/>
<line x1="68.00" y1="1188.60" x2="75.50" y2="1188.60" stroke="#000" stroke-width="2.4"/>
<text transform="translate(65.90,1193.80) scale(0.93,1)" class="tk" text-anchor="end">0</text>
<line x1="68.00" y1="1143.02" x2="75.50" y2="1143.02" stroke="#000" stroke-width="2.4"/>
<text transform="translate(65.90,1148.22) scale(0.93,1)" class="tk" text-anchor="end">50</text>
<line x1="68.00" y1="1097.45" x2="75.50" y2="1097.45" stroke="#000" stroke-width="2.4"/>
<text transform="translate(65.90,1102.65) scale(0.93,1)" class="tk" text-anchor="end">100</text>
<line x1="68.00" y1="1051.88" x2="75.50" y2="1051.88" stroke="#000" stroke-width="2.4"/>
<text transform="translate(65.90,1057.08) scale(0.93,1)" class="tk" text-anchor="end">150</text>
<line x1="68.00" y1="1006.30" x2="75.50" y2="1006.30" stroke="#000" stroke-width="2.4"/>
<text transform="translate(65.90,1011.50) scale(0.93,1)" class="tk" text-anchor="end">200</text>
<line x1="75.50" y1="1188.60" x2="75.50" y2="1196.10" stroke="#000" stroke-width="2.4"/>
<text transform="translate(75.50,1211.90) scale(0.93,1)" class="tk" text-anchor="middle">0</text>
<line x1="125.30" y1="1188.60" x2="125.30" y2="1196.10" stroke="#000" stroke-width="2.4"/>
<text transform="translate(125.30,1211.90) scale(0.93,1)" class="tk" text-anchor="middle">20</text>
<line x1="175.10" y1="1188.60" x2="175.10" y2="1196.10" stroke="#000" stroke-width="2.4"/>
<text transform="translate(175.10,1211.90) scale(0.93,1)" class="tk" text-anchor="middle">40</text>
<line x1="224.90" y1="1188.60" x2="224.90" y2="1196.10" stroke="#000" stroke-width="2.4"/>
<text transform="translate(224.90,1211.90) scale(0.93,1)" class="tk" text-anchor="middle">60</text>
<line x1="274.70" y1="1188.60" x2="274.70" y2="1196.10" stroke="#000" stroke-width="2.4"/>
<text transform="translate(274.70,1211.90) scale(0.93,1)" class="tk" text-anchor="middle">80</text>
<line x1="324.50" y1="1188.60" x2="324.50" y2="1196.10" stroke="#000" stroke-width="2.4"/>
<text transform="translate(324.50,1211.90) scale(0.93,1)" class="tk" text-anchor="middle">100</text>
<text x="175.10" y="1235.40" class="tm" textLength="75.8" lengthAdjust="spacingAndGlyphs">Time(day)</text>
<text x="0.60" y="1010.00" class="lt">i</text>
<g transform="translate(31.60,1232.50) rotate(-90)" class="yt"><text x="-0.30">T</text><text transform="translate(8.84,0) scale(0.940,1)">h</text><text x="16.93">e</text><text x="32.77">c</text><text x="40.31">o</text><text transform="translate(48.30,0) scale(0.971,1)">n</text><text x="56.58">c</text><text x="64.54">e</text><text transform="translate(72.10,0) scale(0.971,1)">n</text><text x="81.78">t</text><text x="89.20">r</text><text x="96.14">a</text><text x="105.59">t</text><text x="113.54">i</text><text x="119.66">o</text><text transform="translate(127.65,0) scale(0.971,1)">n</text><text x="143.47">o</text><text x="152.53">f</text><text transform="translate(167.60,0) scale(0.636,1)">A</text><text transform="translate(175.32,0) scale(0.657,1)">K</text><text x="184.42">(</text><text transform="translate(191.29,0) scale(0.605,1)" font-weight="bold">m</text><text x="198.82">g</text><text x="208.78">/</text><text transform="translate(215.02,0) scale(0.932,1)">k</text><text x="222.62">g</text><text x="232.23">)</text></g>
<path d="M125.30 1115.68 L175.10 1133.91 L224.90 1122.06 L274.70 1122.97 L324.50 1106.56" fill="none" stroke="#000" stroke-width="1.4" stroke-dasharray="3 1.5"/>
<path d="M125.30 1101.10 L175.10 1124.79 L224.90 1097.45 L274.70 1063.72 L324.50 1072.84" fill="none" stroke="#000" stroke-width="1.4"/>
<circle cx="125.30" cy="1115.68" r="3.9"/>
<circle cx="175.10" cy="1133.91" r="3.9"/>
<circle cx="224.90" cy="1122.06" r="3.9"/>
<circle cx="274.70" cy="1122.97" r="3.9"/>
<circle cx="324.50" cy="1106.56" r="3.9"/>
<circle cx="125.30" cy="1101.10" r="3.9"/>
<circle cx="175.10" cy="1124.79" r="3.9"/>
<path d="M224.90 1090.16V1104.74M221.10 1090.16H228.70M221.10 1104.74H228.70" stroke="#000" stroke-width="2.0" fill="none"/>
<circle cx="224.90" cy="1097.45" r="3.9"/>
<path d="M274.70 1052.79V1074.66M270.90 1052.79H278.50M270.90 1074.66H278.50" stroke="#000" stroke-width="2.0" fill="none"/>
<circle cx="274.70" cy="1063.72" r="3.9"/>
<path d="M324.50 1064.64V1081.04M320.70 1064.64H328.30M320.70 1081.04H328.30" stroke="#000" stroke-width="2.0" fill="none"/>
<circle cx="324.50" cy="1072.84" r="3.9"/>
<text x="126.80" y="1100.50" class="st" text-anchor="middle">***</text>
<text x="176.60" y="1124.00" class="st" text-anchor="middle">***</text>
<text x="226.40" y="1093.00" class="st" text-anchor="middle">*</text>
<text x="276.20" y="1056.00" class="st" text-anchor="middle">**</text>
<text x="326.00" y="1068.00" class="st" text-anchor="middle">**</text>
<line x1="250.20" y1="1008.30" x2="270.20" y2="1008.30" stroke="#000" stroke-width="1.4" stroke-dasharray="3 1.5"/>
<circle cx="260.20" cy="1008.30" r="3.9"/>
<line x1="298.50" y1="1008.00" x2="317.70" y2="1008.00" stroke="#000" stroke-width="1.4"/>
<circle cx="308.10" cy="1008.00" r="3.9"/>
<text x="281.30" y="1013.20" class="lg">S</text>
<text x="329.00" y="1013.00" class="lg">IS</text>
<path d="M432.50 1004.90V1188.60H707.00" fill="none" stroke="#000" stroke-width="2.4" stroke-linejoin="miter"/>
<line x1="425.00" y1="1188.60" x2="432.50" y2="1188.60" stroke="#000" stroke-width="2.4"/>
<text transform="translate(422.90,1193.80) scale(0.93,1)" class="tk" text-anchor="end">0</text>
<line x1="425.00" y1="1127.77" x2="432.50" y2="1127.77" stroke="#000" stroke-width="2.4"/>
<text transform="translate(422.90,1132.97) scale(0.93,1)" class="tk" text-anchor="end">100</text>
<line x1="425.00" y1="1066.93" x2="432.50" y2="1066.93" stroke="#000" stroke-width="2.4"/>
<text transform="translate(422.90,1072.13) scale(0.93,1)" class="tk" text-anchor="end">200</text>
<line x1="425.00" y1="1006.10" x2="432.50" y2="1006.10" stroke="#000" stroke-width="2.4"/>
<text transform="translate(422.90,1011.30) scale(0.93,1)" class="tk" text-anchor="end">300</text>
<line x1="432.10" y1="1188.60" x2="432.10" y2="1196.10" stroke="#000" stroke-width="2.4"/>
<text transform="translate(432.10,1211.90) scale(0.93,1)" class="tk" text-anchor="middle">0</text>
<line x1="481.90" y1="1188.60" x2="481.90" y2="1196.10" stroke="#000" stroke-width="2.4"/>
<text transform="translate(481.90,1211.90) scale(0.93,1)" class="tk" text-anchor="middle">20</text>
<line x1="531.70" y1="1188.60" x2="531.70" y2="1196.10" stroke="#000" stroke-width="2.4"/>
<text transform="translate(531.70,1211.90) scale(0.93,1)" class="tk" text-anchor="middle">40</text>
<line x1="581.50" y1="1188.60" x2="581.50" y2="1196.10" stroke="#000" stroke-width="2.4"/>
<text transform="translate(581.50,1211.90) scale(0.93,1)" class="tk" text-anchor="middle">60</text>
<line x1="631.30" y1="1188.60" x2="631.30" y2="1196.10" stroke="#000" stroke-width="2.4"/>
<text transform="translate(631.30,1211.90) scale(0.93,1)" class="tk" text-anchor="middle">80</text>
<line x1="681.10" y1="1188.60" x2="681.10" y2="1196.10" stroke="#000" stroke-width="2.4"/>
<text transform="translate(681.10,1211.90) scale(0.93,1)" class="tk" text-anchor="middle">100</text>
<text x="531.60" y="1235.40" class="tm" textLength="75.8" lengthAdjust="spacingAndGlyphs">Time(day)</text>
<text x="363.60" y="1002.20" class="lt">j</text>
<g transform="translate(393.20,1223.75) rotate(-90)" class="yt"><text x="-0.30">T</text><text transform="translate(8.84,0) scale(0.940,1)">h</text><text x="16.94">e</text><text x="32.79">c</text><text x="40.33">o</text><text transform="translate(48.33,0) scale(0.971,1)">n</text><text x="56.62">c</text><text x="64.58">e</text><text transform="translate(72.15,0) scale(0.971,1)">n</text><text x="81.84">t</text><text x="89.26">r</text><text x="96.20">a</text><text x="105.66">t</text><text x="113.61">i</text><text x="119.74">o</text><text transform="translate(127.74,0) scale(0.971,1)">n</text><text x="143.56">o</text><text x="152.62">f</text><text transform="translate(167.70,0) scale(0.636,1)">A</text><text transform="translate(175.43,0) scale(0.657,1)">K</text><text x="184.54">(</text><text transform="translate(191.42,0) scale(0.605,1)" font-weight="bold">m</text><text x="198.95">g</text><text x="208.92">/</text><text transform="translate(215.16,0) scale(0.932,1)">k</text><text x="222.77">g</text><text x="232.38">)</text></g>
<path d="M481.90 1099.78 L531.70 1132.63 L581.50 1140.54 L631.30 1133.85 L681.10 1103.43" fill="none" stroke="#000" stroke-width="1.4" stroke-dasharray="3 1.5"/>
<path d="M481.90 1042.60 L531.70 1142.97 L581.50 1156.36 L631.30 1139.93 L681.10 1133.85" fill="none" stroke="#000" stroke-width="1.4"/>
<circle cx="481.90" cy="1099.78" r="3.9"/>
<circle cx="531.70" cy="1132.63" r="3.9"/>
<circle cx="581.50" cy="1140.54" r="3.9"/>
<path d="M631.30 1129.59V1138.11M627.50 1129.59H635.10M627.50 1138.11H635.10" stroke="#000" stroke-width="2.0" fill="none"/>
<circle cx="631.30" cy="1133.85" r="3.9"/>
<circle cx="681.10" cy="1103.43" r="3.9"/>
<circle cx="481.90" cy="1042.60" r="3.9"/>
<circle cx="531.70" cy="1142.97" r="3.9"/>
<circle cx="581.50" cy="1156.36" r="3.9"/>
<path d="M631.30 1134.46V1145.41M627.50 1134.46H635.10M627.50 1145.41H635.10" stroke="#000" stroke-width="2.0" fill="none"/>
<circle cx="631.30" cy="1139.93" r="3.9"/>
<circle cx="681.10" cy="1133.85" r="3.9"/>
<text x="483.40" y="1041.50" class="st" text-anchor="middle">***</text>
<text x="533.20" y="1130.50" class="st" text-anchor="middle">**</text>
<text x="583.00" y="1139.50" class="st" text-anchor="middle">***</text>
<text x="682.60" y="1105.00" class="st" text-anchor="middle">***</text>
<line x1="608.00" y1="1006.20" x2="628.00" y2="1006.20" stroke="#000" stroke-width="1.4" stroke-dasharray="3 1.5"/>
<circle cx="618.00" cy="1006.20" r="3.9"/>
<line x1="655.50" y1="1006.70" x2="675.00" y2="1006.70" stroke="#000" stroke-width="1.4"/>
<circle cx="665.25" cy="1006.70" r="3.9"/>
<text x="638.80" y="1010.80" class="lg">C</text>
<text x="686.70" y="1011.30" class="lg">IC</text>
</svg>
</body></html>
